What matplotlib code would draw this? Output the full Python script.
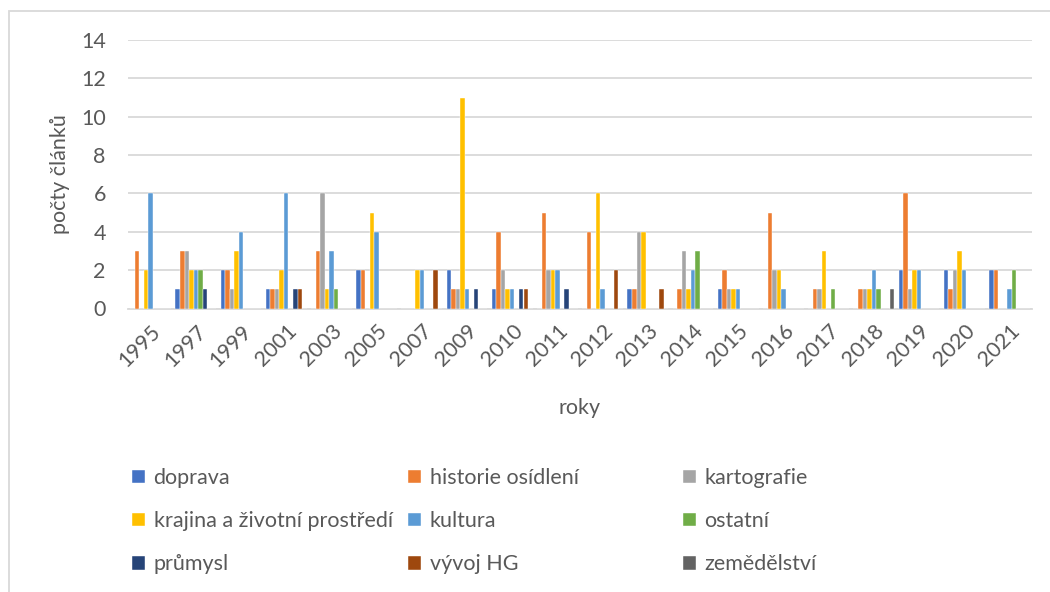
import numpy as np
import matplotlib
matplotlib.use('Agg')
import matplotlib.pyplot as plt
from matplotlib.patches import Rectangle

plt.rcParams['font.family'] = ['Lato', 'DejaVu Sans']

years = ['1995', '1997', '1999', '2001', '2003', '2005', '2007', '2009', '2010', '2011',
         '2012', '2013', '2014', '2015', '2016', '2017', '2018', '2019', '2020', '2021']

doprava = [0, 1, 2, 1, 0, 2, 0, 2, 1, 0, 0, 1, 0, 1, 0, 0, 0, 2, 2, 2]
historie = [3, 3, 2, 1, 3, 2, 0, 1, 4, 5, 4, 1, 1, 2, 5, 1, 1, 6, 1, 2]
kartografie = [0, 3, 1, 1, 6, 0, 0, 1, 2, 2, 0, 4, 3, 1, 2, 1, 1, 1, 2, 0]
krajina = [2, 2, 3, 2, 1, 5, 2, 11, 1, 2, 6, 4, 1, 1, 2, 3, 1, 2, 3, 0]
kultura = [6, 2, 4, 6, 3, 4, 2, 1, 1, 2, 1, 0, 2, 1, 1, 0, 2, 2, 2, 1]
ostatni = [0, 2, 0, 0, 1, 0, 0, 0, 0, 0, 0, 0, 3, 0, 0, 1, 1, 0, 0, 2]
prumysl = [0, 1, 0, 1, 0, 0, 0, 1, 1, 1, 0, 0, 0, 0, 0, 0, 0, 0, 0, 0]
vyvoj_hg = [0, 0, 0, 1, 0, 0, 2, 0, 1, 0, 2, 1, 0, 0, 0, 0, 0, 0, 0, 0]
zemedelstvi = [0, 0, 0, 0, 0, 0, 0, 0, 0, 0, 0, 0, 0, 0, 0, 0, 1, 0, 0, 0]

series = [
    ('doprava', doprava, '#4472C4'),
    ('historie osídlení', historie, '#ED7D31'),
    ('kartografie', kartografie, '#A5A5A5'),
    ('krajina a životní prostředí', krajina, '#FFC000'),
    ('kultura', kultura, '#5B9BD5'),
    ('ostatní', ostatni, '#70AD47'),
    ('průmysl', prumysl, '#264478'),
    ('vývoj HG', vyvoj_hg, '#9E480E'),
    ('zemědělství', zemedelstvi, '#636363'),
]

txt = '#595959'
W, H = 1050, 592
fig = plt.figure(figsize=(W / 100, H / 100), dpi=100)
ax = fig.add_axes([128 / W, 1 - 308.5 / H, (1032 - 128) / W, (308.5 - 40) / H])

x = np.arange(len(years))
n = len(series)
bw = 1.0 / (n + 1)
handles = []
for i, (name, vals, col) in enumerate(series):
    pos = x - 0.5 + bw / 2 + bw * (i + 0.5)
    b = ax.bar(pos, vals, width=bw, color=col, label=name, zorder=3,
               edgecolor='white', linewidth=0.3)
    handles.append(b)

ax.set_xlim(-0.5, len(years) - 0.5)
ax.set_ylim(0, 14)
ax.set_yticks(range(0, 15, 2))
ax.set_xticks(x)
ax.set_xticklabels(years, rotation=45, ha='right', rotation_mode='anchor')
ax.tick_params(axis='both', length=0, colors=txt, labelsize=15.5)
ax.tick_params(axis='y', pad=16)
ax.tick_params(axis='x', pad=9)
ax.grid(axis='y', color='#D9D9D9', linewidth=1.3, zorder=0)
for s in ['top', 'right', 'left']:
    ax.spines[s].set_visible(False)
ax.spines['bottom'].set_color('#D9D9D9')
ax.spines['bottom'].set_linewidth(1.3)

ax.set_xlabel('roky', fontsize=15.5, color=txt, labelpad=20)
ax.set_ylabel('počty článků', fontsize=15.5, color=txt, labelpad=8)

# legend, three columns filled row by row
cols_x = [132, 408, 683]
for c in range(3):
    idx = [c, c + 3, c + 6]
    fig.legend([handles[k] for k in idx], [series[k][0] for k in idx],
               loc='upper left', bbox_to_anchor=(cols_x[c] / W, 1 - 468 / H),
               frameon=False, fontsize=15.5, labelcolor=txt,
               handlelength=0.6, handleheight=0.6, handletextpad=0.4,
               labelspacing=1.08, borderaxespad=0, borderpad=0)

# chart area border
fig.add_artist(Rectangle((9 / W, -0.1), 1.2, 1 - 11 / H + 0.1, transform=fig.transFigure,
                         fill=False, edgecolor='#D9D9D9', linewidth=1.3))

fig.savefig('out.png', dpi=100)
